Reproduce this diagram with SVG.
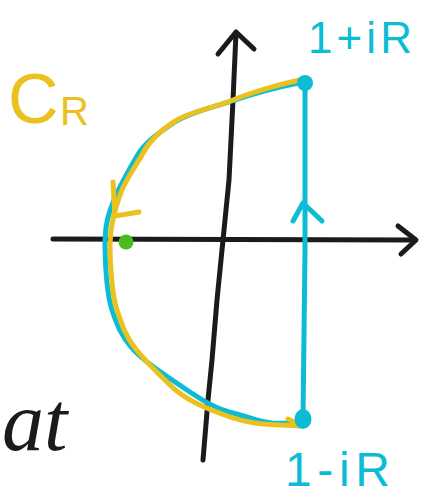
<svg xmlns="http://www.w3.org/2000/svg" width="429" height="497" viewBox="0 0 429 497">
<style>
.ink{fill:none;stroke-linecap:round;stroke-linejoin:round}
.blk{stroke:#1b1b1b;stroke-width:5}
.cy{stroke:#0bbcd4;stroke-width:5}
.yl{stroke:#eac11f;stroke-width:5}
.lbl{font-family:"Liberation Sans","DejaVu Sans",sans-serif}
</style>
<rect width="429" height="497" fill="#ffffff"/>
<g id="axes">
<path class="ink blk" d="M53,239 L413,240"/>
<path class="ink blk" d="M398,226 L416,240 L401,254"/>
<path class="ink blk" d="M236,33 L233,100 L229,180 L222,250 L217,300 L212,360 L208,400 L203,460"/>
<path class="ink blk" d="M218,54 L236,32 L254,49"/>
</g>
<g id="segment">
<path class="ink cy" d="M305,84 L305,250 L303,418"/>
<path class="ink cy" d="M293,221 L303,203 L322,221"/>
</g>
<g id="contour">
<path class="ink cy" d="M303,82 C283,86 252,94 235,100 S190,112 175,122 S145,142 137,156 S120,185 114,200 S105,225 105,245 S107,295 112,310 S121,335 131,347 S160,372 190,392 S225,410 250,418 S282,423 302,422"/>
<path class="ink yl" d="M300,80 C280,84 250,93 233,100 S190,112 177,120 S150,140 143,153 S125,180 120,195 S110,225 110,245 S112,295 117,310 S125,335 135,348 S155,370 170,385 S205,408 230,417 S275,424 300,426"/>
<path class="ink yl" d="M113,182 L115,216 L139,212"/>
<path class="ink yl" d="M288,419 L300,425"/>
</g>
<g id="points">
<circle cx="305" cy="83" r="8" fill="#0bbcd4"/>
<ellipse cx="303" cy="419" rx="8.5" ry="10" fill="#0bbcd4"/>
<circle cx="126" cy="242" r="7.5" fill="#4cbb1c"/>
</g>
<g id="labels">
<text class="lbl" x="8" y="123" font-size="70" fill="#eac11f">C</text>
<text class="lbl" x="60" y="125" font-size="40" fill="#eac11f">R</text>
<text class="lbl" x="308" y="53" font-size="44" fill="#0bbcd4" textLength="104" lengthAdjust="spacing">1+iR</text>
<text class="lbl" x="285" y="486" font-size="48" fill="#0bbcd4" textLength="105" lengthAdjust="spacing">1-iR</text>
<text x="2" y="450" font-size="84" font-style="italic" fill="#1b1b1b" font-family="'Liberation Serif','DejaVu Serif',serif">at</text>
</g>
</svg>
